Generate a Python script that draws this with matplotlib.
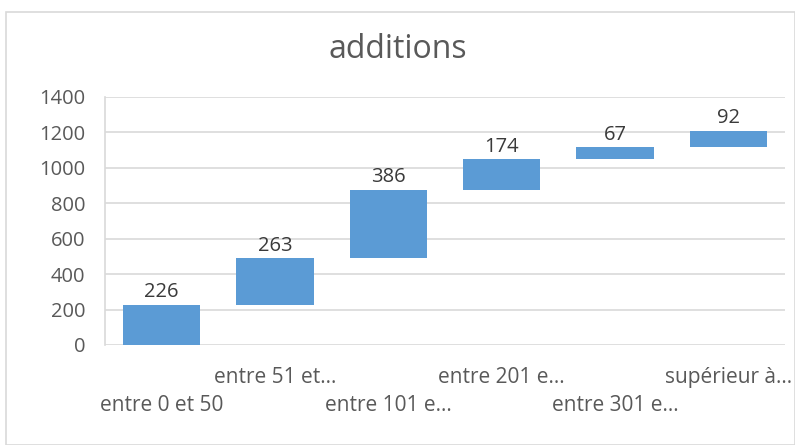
import numpy as np
import matplotlib.pyplot as plt
from matplotlib.patches import Rectangle

categories = ["entre 0 et 50", "entre 51 et…", "entre 101 e…",
              "entre 201 e…", "entre 301 e…", "supérieur à…"]
values = [226, 263, 386, 174, 67, 92]

plt.rcParams['font.family'] = ['Open Sans', 'DejaVu Sans']

bases = np.concatenate([[0], np.cumsum(values)[:-1]])
x = np.arange(len(values))

fig = plt.figure(figsize=(7.95, 4.45), dpi=100)
fig.patches.append(Rectangle((6 / 795, 0), 1 - 6 / 795, 1 - 12 / 445,
                             transform=fig.transFigure, fill=False,
                             edgecolor='#d9d9d9', lw=1.2))
ax = fig.add_axes([105 / 795, 1 - 345 / 445, 680 / 795, 248 / 445])

ax.bar(x, values, bottom=bases, width=0.68, color='#5B9BD5', zorder=3)
for xi, b, v in zip(x, bases, values):
    ax.text(xi, b + v + 15, str(v), ha='center', va='bottom',
            fontsize=14.5, color='#3a3a3a')

ax.set_xlim(-0.5, len(values) - 0.5)
ax.set_ylim(0, 1400)
ax.set_yticks(range(0, 1401, 200))
ax.tick_params(axis='y', length=0, labelsize=14.5, labelcolor='#595959', pad=14)
ax.set_xticks([])
ax.yaxis.grid(True, color='#d9d9d9', lw=1.2)
ax.set_axisbelow(True)
for s in ['top', 'right', 'bottom']:
    ax.spines[s].set_visible(False)
ax.spines['left'].set_color('#d9d9d9')
ax.spines['left'].set_linewidth(1.2)

# staggered category labels
for i, c in enumerate(categories):
    y = -0.13 if i % 2 == 1 else -0.245
    ax.text(i, y, c, transform=ax.get_xaxis_transform(), fontsize=15,
            color='#595959', ha='center', va='center')

fig.text(0.5, 1 - 50 / 445, "additions", ha='center', va='center',
         fontsize=23, color='#595959')

fig.savefig("out.png", dpi=100)
